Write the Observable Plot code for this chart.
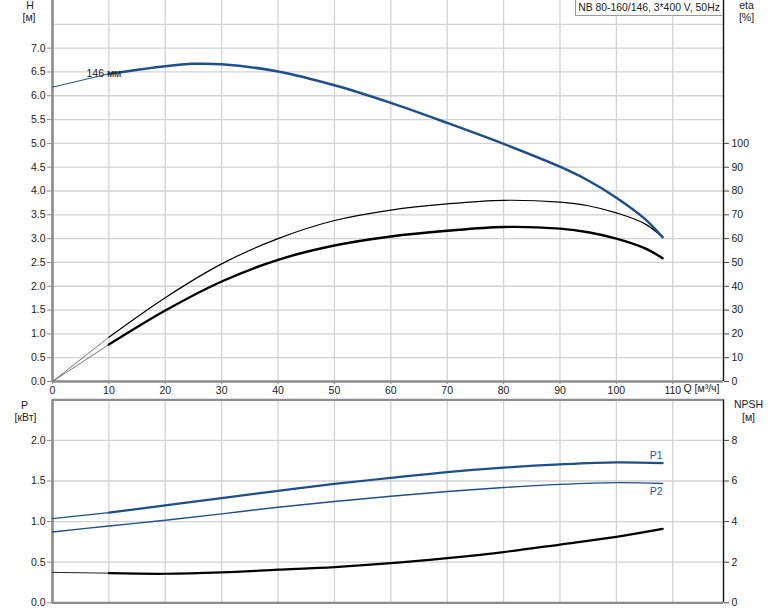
<!DOCTYPE html>
<html><head><meta charset="utf-8">
<script src="https://cdn.jsdelivr.net/npm/d3@7"></script>
<script src="https://cdn.jsdelivr.net/npm/@observablehq/plot@0.6"></script>
<style>
body{margin:0;background:#fff;font-family:"Liberation Sans",Arial,sans-serif;}
#wrap{position:relative;width:774px;height:611px;overflow:hidden;background:#fff;}
#wrap svg{position:absolute;left:0;}
.lbl{position:absolute;font-size:10.5px;color:#222;white-space:nowrap;transform:translate(-50%,-50%);line-height:1;}
#title{position:absolute;left:575px;top:-1px;width:146px;height:15px;border:1px solid #9a9a9a;border-right:none;background:#fff;font-size:10.4px;color:#222;line-height:15px;text-align:center;white-space:nowrap;z-index:2;}
</style></head><body><div id="wrap"></div>
<script>
// ---- data ----
const title = "NB 80-160/146, 3*400 V, 50Hz";
const curveLabel = "146 мм";
const qUnit = "Q [м³/ч]";

// Head curve H [м]
const qH = [0, 10, 20, 25, 30, 40, 50, 60, 70, 80, 90, 95, 100, 105, 108.2];
const hVals = [6.18, 6.46, 6.62, 6.67, 6.66, 6.51, 6.22, 5.85, 5.43, 4.99, 4.51, 4.22, 3.86, 3.42, 3.03];

// Efficiency curves eta [%]
const qEta = [0, 10, 20, 30, 40, 50, 60, 70, 80, 90, 95, 100, 105, 108.2];
const etaPump = [0, 18.6, 35.2, 49.4, 60.0, 67.6, 72.0, 74.6, 76.1, 75.3, 73.8, 70.8, 66.3, 60.6];
const etaTotal = [0, 15.5, 29.8, 42.0, 51.1, 57.1, 60.9, 63.3, 64.9, 64.2, 62.7, 60.0, 56.0, 51.8];

// Power P [кВт] and NPSH [м]
const qP = [0, 10, 20, 30, 40, 50, 60, 70, 80, 90, 100, 108.2];
const p1 = [1.037, 1.11, 1.20, 1.29, 1.378, 1.464, 1.538, 1.61, 1.665, 1.705, 1.73, 1.72];
const p2 = [0.872, 0.946, 1.016, 1.095, 1.177, 1.247, 1.312, 1.37, 1.42, 1.458, 1.48, 1.47];
const npsh = [1.50, 1.46, 1.43, 1.50, 1.63, 1.76, 1.95, 2.20, 2.50, 2.87, 3.25, 3.64];

// Ticks
const xTicks = [0, 10, 20, 30, 40, 50, 60, 70, 80, 90, 100, 110];
const hTicks = [0, 0.5, 1, 1.5, 2, 2.5, 3, 3.5, 4, 4.5, 5, 5.5, 6, 6.5, 7];
const hGrid = [0.5, 1, 1.5, 2, 2.5, 3, 3.5, 4, 4.5, 5, 5.5, 6, 6.5, 7, 7.5];
const etaTicks = [0, 10, 20, 30, 40, 50, 60, 70, 80, 90, 100];
const pTicks = [0, 0.5, 1, 1.5, 2];
const npshTicks = [0, 2, 4, 6, 8];

// ---- build ----
const xMax = 119, hMax = 8, pMax = 2.5;
const etaToH = 20;   // eta 100% on the H=5 line
const npshToP = 4;   // NPSH 8 m on the P=2 line
const blue = "#1c4f8c";
const gridC = "#d2d2d2", axisC = "#8c8c8c";
const font = {fontFamily: '"Liberation Sans", Arial, sans-serif', fontSize: "10.5px", color: "#222", background: "transparent", overflow: "visible"};

const H = qH.map((q, i) => ({q, v: hVals[i]}));
const E1 = qEta.map((q, i) => ({q, v: etaPump[i] / etaToH}));
const E2 = qEta.map((q, i) => ({q, v: etaTotal[i] / etaToH}));
const P1 = qP.map((q, i) => ({q, v: p1[i]}));
const P2 = qP.map((q, i) => ({q, v: p2[i]}));
const N = qP.map((q, i) => ({q, v: npsh[i] / npshToP}));
const thin = d => d.filter(p => p.q <= 10);
const thick = d => d.filter(p => p.q >= 10);
const L = (data, stroke, w) => Plot.line(data, {x: "q", y: "v", stroke, strokeWidth: w, curve: "catmull-rom"});

const topPlot = Plot.plot({
  width: 774, height: 398,
  marginLeft: 52, marginRight: 51, marginTop: 0, marginBottom: 17,
  x: {domain: [0, xMax]}, y: {domain: [0, hMax]},
  style: font,
  marks: [
    Plot.ruleX(xTicks.slice(1), {stroke: gridC, strokeWidth: 1.3}),
    Plot.ruleY(hGrid, {stroke: gridC, strokeWidth: 1.3}),
    Plot.ruleX([0], {stroke: axisC, strokeWidth: 2.6}),
    Plot.ruleY([0], {stroke: axisC, strokeWidth: 2.6}),
    Plot.ruleX([xMax], {stroke: "#111", strokeWidth: 1.4}),
    L(thin(E1), "#666", 0.9),
    L(thick(E1), "#000", 1.2),
    L(thin(E2), "#666", 0.9),
    L(thick(E2), "#000", 2.4),
    L(thin(H), blue, 1),
    L(thick(H), blue, 2.5),
    Plot.text(H.filter(d => d.q === 10), {x: "q", y: "v", text: () => curveLabel, dx: -5, dy: 0, fill: "#222"}),
    Plot.axisY({ticks: hTicks, tickFormat: d3.format(".1f"), tickSize: 5, tickPadding: 2, stroke: axisC, label: null}),
    Plot.axisY({anchor: "right", ticks: etaTicks.map(e => e / etaToH), tickFormat: d => Math.round(d * etaToH), tickSize: 5, tickPadding: 3, stroke: "#444", label: null}),
    Plot.axisX({ticks: xTicks, tickSize: 3, tickPadding: 2, stroke: axisC, label: null}),
    Plot.text([qUnit], {frameAnchor: "bottom-right", textAnchor: "end", dx: -4, dy: 10.5, fill: "#222"})
  ]
});
topPlot.style.top = "0px";

const bottomPlot = Plot.plot({
  width: 774, height: 221,
  marginLeft: 52, marginRight: 51, marginTop: 9.3, marginBottom: 8.7,
  x: {domain: [0, xMax], axis: null}, y: {domain: [0, pMax]},
  style: font,
  marks: [
    Plot.ruleX(xTicks.slice(1), {stroke: gridC, strokeWidth: 1.3}),
    Plot.ruleY(pTicks.slice(1), {stroke: gridC, strokeWidth: 1.3}),
    Plot.ruleX([0], {stroke: axisC, strokeWidth: 2.6}),
    Plot.ruleY([0, pMax], {stroke: axisC, strokeWidth: 2.2}),
    Plot.ruleX([xMax], {stroke: "#111", strokeWidth: 1.4}),
    L(thin(N), "#222", 1),
    L(thick(N), "#000", 2.2),
    L(P2, blue, 1.4),
    L(thin(P1), blue, 1.2),
    L(thick(P1), blue, 2.2),
    Plot.text(P1.slice(-1), {x: "q", y: "v", text: () => "P1", textAnchor: "end", dx: 0, dy: -8, fill: "#2c5a8c"}),
    Plot.text(P2.slice(-1), {x: "q", y: "v", text: () => "P2", textAnchor: "end", dx: 0, dy: 8, fill: "#2c5a8c"}),
    Plot.axisY({ticks: pTicks, tickFormat: d3.format(".1f"), tickSize: 5, tickPadding: 2, stroke: axisC, label: null}),
    Plot.axisY({anchor: "right", ticks: npshTicks.map(n => n / npshToP), tickFormat: d => Math.round(d * npshToP), tickSize: 5, tickPadding: 3, stroke: "#444", label: null})
  ]
});
bottomPlot.style.top = "390px";

const wrap = document.getElementById("wrap");
wrap.appendChild(topPlot);
wrap.appendChild(bottomPlot);

const t = document.createElement("div");
t.id = "title"; t.textContent = title;
wrap.appendChild(t);

const labels = [
  ["H", 30, 5], ["[м]", 29, 17],
  ["eta", 746.5, 5], ["[%]", 746.5, 17],
  ["P", 24.5, 405], ["[кВт]", 25.5, 417],
  ["NPSH", 748.5, 404], ["[м]", 748.5, 417]
];
for (const [txt, x, y] of labels) {
  const s = document.createElement("div");
  s.className = "lbl"; s.textContent = txt;
  s.style.left = x + "px"; s.style.top = y + "px";
  wrap.appendChild(s);
}
</script></body></html>
